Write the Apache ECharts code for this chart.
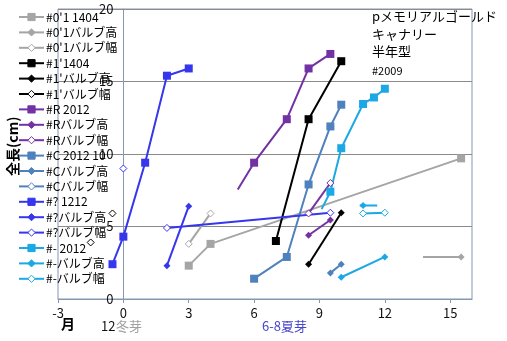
<!DOCTYPE html>
<html><head><meta charset="utf-8">
<script src="https://cdn.jsdelivr.net/npm/echarts@6/dist/echarts.min.js"></script>
<style>html,body{margin:0;padding:0;background:#fff}#c{width:507px;height:341px}</style>
</head><body><div id="c"></div>
<script>
// Series names (legend order)
const names = ["#0'1 1404","#0'1バルブ高","#0'1バルブ幅","#1'1404","#1'バルブ高","#1'バルブ幅",
  "#R 2012","#Rバルブ高","#Rバルブ幅","#C 2012 10","#Cバルブ高","#Cバルブ幅",
  "#? 1212","#?バルブ高","#?バルブ幅","#- 2012","#-バルブ高","#-バルブ幅"];
const GAP = ['-','-'];
// [month, length cm]
const s01_1404  = [[3,2.3],[4,3.8],[15.5,9.7]];
const s01_high  = [[13.75,2.9],[15.5,2.9]];
const s01_width = [[3,3.8],[4,5.9]];
const s1_1404   = [[7,4.0],[8.5,12.4],[10,16.4]];
const s1_high   = [[8.5,2.4],[10,5.95]];
const s1_width  = [[-1.5,3.9],GAP,[-0.5,5.9]];
const sR_2012   = [[5.25,7.55],[6,9.4],[7.5,12.4],[8.5,15.9],[9.5,16.9]];
const sR_high   = [[8.5,4.4],[9.5,5.45]];
const sR_width  = [[8.5,5.9],[9.5,8.0]];
const sC_2012   = [[6,1.4],[7.5,2.9],[8.5,7.9],[9.5,11.9],[10,13.4]];
const sC_high   = [[9.5,1.8],[10,2.4]];
const sC_width  = [];
const sQ_1212   = [[-0.5,2.4],[0,4.3],[1,9.4],[2,15.4],[3,15.9]];
const sQ_high   = [[2,2.3],[3,6.4]];
const sQ_width  = [[0,9.0],GAP,[2,4.9],[9.5,5.95]];
const sD_2012   = [[9.1,6.2],[9.5,7.4],[10,10.4],[11,13.45],[11.5,13.9],[12,14.5]];
const sD_high   = [[10.85,6.45],[11,6.45],[11.65,6.45],GAP,[10,1.5],[12,2.9]];
const sD_width  = [[11,5.9],[12,5.95]];
const xTicks = [-3,0,3,6,9,12,15];
const yTicks = [0,5,10,15,20];

const allData = [s01_1404,s01_high,s01_width,s1_1404,s1_high,s1_width,sR_2012,sR_high,sR_width,
  sC_2012,sC_high,sC_width,sQ_1212,sQ_high,sQ_width,sD_2012,sD_high,sD_width];
// points drawn without a marker: [series index, point index]
const noMarker = [[1,0],[6,0],[15,0],[16,0],[16,2]];

const colors = ['#A5A5A5','#000000','#7332A3','#4F81BD','#3636EE','#1CA8E4'];
const kinds = ['rect','diamond','hollow'];

const series = names.map((n,i)=>{
  const col = colors[Math.floor(i/3)];
  const kind = kinds[i%3];
  const hollow = kind==='hollow';
  const data = allData[i].map((p,j)=>{
    const hide = noMarker.some(m=>m[0]===i&&m[1]===j);
    return hide ? {value:p, symbol:'none'} : {value:p};
  });
  return {
    name:n, type:'line', data:data, connectNulls:false,
    symbol: hollow ? 'diamond' : kind, symbolSize: kind==='rect'?8:7,
    lineStyle:{color:col,width:2},
    itemStyle: hollow ? {color:'#ffffff', borderColor:col, borderWidth:1}
                      : {color:col, borderColor:col, borderWidth:0},
    emphasis:{disabled:true}, z: 3
  };
});

const W=507, L=58, R=35;
const xMin=-3, xMax=16;
const zeroOffset = -(W-L-R)*(0-xMin)/(xMax-xMin);

const chart = echarts.init(document.getElementById('c'),null,{renderer:'canvas'});
const font = '"Noto Sans CJK JP", "Noto Sans", sans-serif';
chart.setOption({
  animation:false,
  textStyle:{fontFamily:font},
  grid:{left:L,right:R,top:9,bottom:42,show:true,borderColor:'#8697B0',borderWidth:1,containLabel:false},
  xAxis:{type:'value',min:xMin,max:xMax,interval:3,
    axisLine:{onZero:true,lineStyle:{color:'#8697B0',width:1}},
    axisTick:{show:true,length:4,lineStyle:{color:'#8697B0'}},
    axisLabel:{color:'#111',fontSize:13,margin:8,showMaxLabel:false,fontFamily:font,
      formatter:v=>xTicks.includes(v)?String(v):''},
    splitLine:{show:false}},
  yAxis:{type:'value',min:0,max:20,interval:5,offset:zeroOffset,
    axisLine:{show:true,onZero:false,lineStyle:{color:'#8697B0',width:1}},
    axisTick:{show:false},
    axisLabel:{color:'#111',fontSize:13,margin:10,fontFamily:font,
      formatter:v=>yTicks.includes(v)?String(v):''},
    splitLine:{show:true,lineStyle:{color:'#8A8A8A',width:1}}},
  legend:{orient:'vertical',left:18,top:11,padding:0,itemWidth:25,itemHeight:9,itemGap:3.4,
    itemStyle:{borderWidth:1},
    textStyle:{fontSize:12,color:'#000',fontFamily:font,lineHeight:12,padding:[0,0,0,-3]},
    data:names, selectedMode:false},
  series:series,
  graphic:[
    {type:'text',left:372,top:10,style:{text:'pメモリアルゴールド',font:'13px '+font,fill:'#000'}},
    {type:'text',left:372,top:28,style:{text:'キャナリー',font:'13px '+font,fill:'#000'}},
    {type:'text',left:372,top:45,style:{text:'半年型',font:'13px '+font,fill:'#000'}},
    {type:'text',left:372,top:65,style:{text:'#2009',font:'11px '+font,fill:'#000'}},
    {type:'text',x:6,y:176,rotation:Math.PI/2,style:{text:'全長(cm)',font:'bold 14px '+font,fill:'#000'}},
    {type:'text',left:61,top:317,style:{text:'月',font:'bold 14px '+font,fill:'#000'}},
    {type:'text',left:101,top:320,style:{text:'12',font:'13px '+font,fill:'#111'}},
    {type:'text',left:116,top:320,style:{text:'冬芽',font:'13px '+font,fill:'#A0A0A0'}},
    {type:'text',left:262,top:320,style:{text:'6-8夏芽',font:'13px '+font,fill:'#4646CC'}}
  ]
});
</script></body></html>
